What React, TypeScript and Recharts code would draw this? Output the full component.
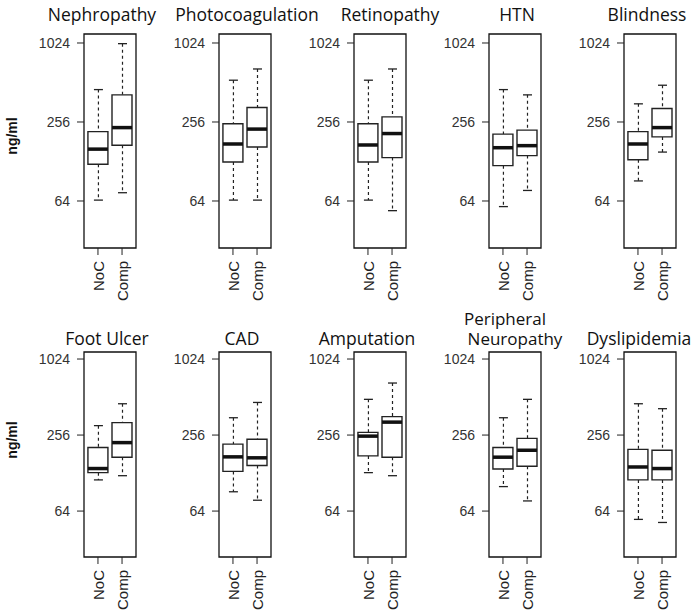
import React from "react";
import { ComposedChart, Bar, Line, XAxis, YAxis, ReferenceArea } from "recharts";

const conditions = ["Nephropathy", "Photocoagulation", "Retinopathy", "HTN", "Blindness",
  "Foot Ulcer", "CAD", "Amputation", "Peripheral Neuropathy", "Dyslipidemia"];
const groups = ["NoC", "Comp"];
const yTicks = [64, 256, 1024];

// ng/ml, [NoC, Comp] for each condition
const whiskerLow = [[65, 74], [65, 65], [65, 54], [58, 77], [91, 151], [113, 122], [91, 78], [129, 122], [100, 77], [55, 52]];
const q1 = [[122, 170], [127, 165], [127, 137], [119, 142], [132, 197], [129, 171], [132, 147], [175, 171], [138, 145], [113, 113]];
const median = [[159, 232], [174, 226], [171, 209], [163, 169], [174, 232], [139, 223], [172, 169], [251, 324], [171, 194], [143, 139]];
const q3 = [[216, 412], [248, 330], [248, 280], [207, 222], [216, 324], [204, 321], [217, 237], [269, 358], [204, 241], [197, 194]];
const whiskerHigh = [[452, 1012], [533, 649], [533, 649], [452, 412], [352, 488], [304, 453], [351, 464], [491, 661], [351, 491], [453, 414]];

const TICK_FONT = "'Liberation Sans', Arial, sans-serif";
const TITLE_FONT = "'Open Sans', 'Noto Sans', sans-serif";

const ROWS = [
  { top: 0, height: 310, mt: 34, mb: 12, domain: [28.05, 1199] },
  { top: 310, height: 305, mt: 42, mb: 8, domain: [27.7, 1164] },
];
const X_DOMAIN = [0.42, 2.58];

// title placement (centre x, baseline y)
const titlePos = [[102, 20.5], [247, 20.5], [390, 20.5], [517, 20.5], [647, 20.5],
  [107, 345], [242, 345], [367, 345], [512, 345], [639, 345]];

const Whisker = (props: any) => {
  const { x, y, width, height, end } = props;
  const top = Math.min(y, y + height);
  const bot = Math.max(y, y + height);
  const cx = x + width / 2;
  const capY = end === "top" ? top : bot;
  return (
    <g>
      <line x1={cx} x2={cx} y1={top} y2={bot} stroke="#222" strokeWidth={1.2} strokeDasharray="3 3" />
      <line x1={x} x2={x + width} y1={capY} y2={capY} stroke="#222" strokeWidth={1.3} />
    </g>
  );
};

const Median = (props: any) => {
  const { cx, cy } = props;
  if (cx == null || cy == null) return null;
  return <line x1={cx - 10} x2={cx + 10} y1={cy} y2={cy} stroke="#111" strokeWidth={3.5} />;
};

const XTick = (props: any) => {
  const { x, y, payload } = props;
  const tx = x + 6;
  const ty = y + 4;
  return (
    <text x={tx} y={ty} transform={`rotate(-90 ${tx} ${ty})`} textAnchor="end"
      fontSize={15} fontFamily={TICK_FONT} fill="#222">
      {groups[payload.value - 1]}
    </text>
  );
};

function Panel({ idx }: { idx: number }) {
  const row = idx < 5 ? 0 : 1;
  const col = idx % 5;
  const R = ROWS[row];
  const data = groups.map((g, j) => ({
    pos: j + 1,
    group: g,
    lower: [whiskerLow[idx][j], q1[idx][j]],
    upper: [q3[idx][j], whiskerHigh[idx][j]],
    box: [q1[idx][j], q3[idx][j]],
    med: median[idx][j],
  }));
  return (
    <div style={{ position: "absolute", left: 39 + 135 * col, top: R.top }}>
      <ComposedChart width={135} height={R.height} data={data}
        margin={{ top: R.mt, right: 38, bottom: R.mb, left: 0 }}>
        <XAxis dataKey="pos" type="number" domain={X_DOMAIN} ticks={[1, 2]} interval={0}
          height={50} tickSize={7} axisLine={false} tickLine={{ stroke: "#222" }} tick={<XTick />} />
        <XAxis xAxisId="lo" dataKey="pos" type="number" domain={X_DOMAIN} hide />
        <XAxis xAxisId="hi" dataKey="pos" type="number" domain={X_DOMAIN} hide />
        <XAxis xAxisId="box" dataKey="pos" type="number" domain={X_DOMAIN} hide />
        <YAxis scale="log" type="number" domain={R.domain} ticks={yTicks} interval={0} allowDataOverflow
          width={45} tickSize={7} tickMargin={7} axisLine={false} tickLine={{ stroke: "#222" }}
          tick={{ fontSize: 14, fill: "#333", fontFamily: TICK_FONT }} />
        <Bar xAxisId="lo" dataKey="lower" barSize={9} shape={<Whisker end="bottom" />} isAnimationActive={false} />
        <Bar xAxisId="hi" dataKey="upper" barSize={9} shape={<Whisker end="top" />} isAnimationActive={false} />
        <Bar xAxisId="box" dataKey="box" barSize={20} fill="#fff" stroke="#222" strokeWidth={1.4} isAnimationActive={false} />
        <Line dataKey="med" stroke="none" dot={<Median />} activeDot={false} isAnimationActive={false} />
        <ReferenceArea x1={X_DOMAIN[0]} x2={X_DOMAIN[1]} y1={R.domain[0]} y2={R.domain[1]}
          fill="none" fillOpacity={0} stroke="#111" strokeWidth={1.3} ifOverflow="visible" />
      </ComposedChart>
    </div>
  );
}

export default function App() {
  return (
    <div style={{ position: "relative", width: 697, height: 615, background: "#fff", overflow: "hidden" }}>
      <style>{"body{margin:0;}"}</style>
      {conditions.map((_, i) => <Panel key={i} idx={i} />)}
      <svg width={697} height={615} style={{ position: "absolute", left: 0, top: 0, pointerEvents: "none" }}>
        {conditions.map((c, i) => {
          const [cx, by] = titlePos[i];
          if (c === "Peripheral Neuropathy") {
            return (
              <g key={c}>
                <text x={cx - 7} y={by - 20} textAnchor="middle" fontSize={17} fontFamily={TITLE_FONT} fill="#111">Peripheral</text>
                <text x={cx + 3} y={by} textAnchor="middle" fontSize={17} fontFamily={TITLE_FONT} fill="#111">Neuropathy</text>
              </g>
            );
          }
          return (
            <text key={c} x={cx} y={by} textAnchor="middle" fontSize={17.5} fontFamily={TITLE_FONT} fill="#111">{c}</text>
          );
        })}
        {[136, 440].map((cy) => (
          <text key={cy} x={17} y={cy} transform={`rotate(-90 17 ${cy})`} textAnchor="middle"
            fontSize={14} fontWeight="bold" fontFamily={TICK_FONT} fill="#111">ng/ml</text>
        ))}
      </svg>
    </div>
  );
}
